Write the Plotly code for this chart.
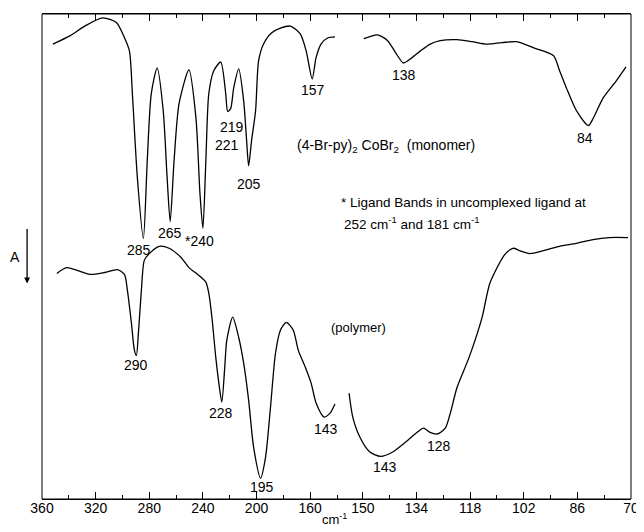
import numpy as np
import plotly.graph_objects as go

# ---------------- data (wavenumber cm^-1, relative absorbance scale 0-100, peaks point down) ----
mono_left_cm = [351.9, 339.3, 328.1, 314.8, 304.4, 298.5, 294.8, 292.6, 288.9, 284.4, 281.5, 278.5,
                274.1, 269.6, 266.7, 264.4, 261.5, 257.8, 250.4, 245.2, 242.2, 240.0, 237.8, 235.6,
                231.9, 226.7, 223.0, 221.5, 219.3, 217.0, 213.3, 209.6, 207.4, 205.9, 203.7, 200.7,
                198.5, 194.8, 188.9, 182.2, 174.8, 167.4, 163.0, 158.5, 155.6, 151.9, 146.7, 141.5]
mono_left_a = [93.8, 95.5, 97.5, 99.2, 98.2, 95.1, 92.4, 83.6, 66.3, 53.7, 69.8, 83.6,
               88.9, 80.1, 66.3, 57.2, 69.8, 81.5, 88.5, 78.6, 63.0, 55.8, 69.8, 83.6,
               88.3, 90.1, 83.6, 79.9, 80.5, 84.8, 88.7, 82.1, 73.9, 68.7, 73.9, 80.1,
               90.3, 93.8, 96.1, 97.1, 97.5, 95.9, 92.4, 86.6, 91.0, 93.8, 95.1, 95.3]

mono_right_cm = [149.7, 145.6, 142.6, 140.2, 137.9, 135.5, 132.8, 129.9, 126.9, 121.9, 117.4, 113.0,
                 108.5, 104.1, 99.0, 93.1, 91.3, 89.3, 86.3, 82.7, 81.2, 78.3, 74.4, 71.5]
mono_right_a = [94.9, 95.7, 94.5, 92.0, 89.9, 90.9, 92.4, 93.8, 94.5, 94.7, 94.3, 93.8,
                94.1, 94.3, 93.0, 91.4, 88.3, 84.8, 80.1, 77.0, 78.6, 82.7, 86.2, 89.1]

poly_left_cm = [348.9, 341.5, 324.4, 313.3, 303.7, 298.5, 296.3, 293.3, 291.1, 289.6, 288.1, 285.9,
                283.7, 280.0, 272.6, 265.2, 256.3, 250.4, 243.0, 237.8, 235.6, 233.3, 230.4, 228.1,
                225.9, 223.7, 222.2, 217.8, 213.3, 209.6, 205.9, 202.2, 197.0, 193.3, 189.6, 185.9,
                182.2, 177.8, 172.6, 168.9, 163.7, 159.3, 155.6, 149.6, 145.2, 141.5]
poly_left_a = [46.5, 47.7, 46.3, 46.7, 47.3, 46.3, 43.0, 36.2, 30.7, 29.6, 34.2, 43.0,
               49.2, 50.6, 52.1, 51.7, 49.8, 47.7, 46.1, 44.7, 42.4, 37.5, 29.2, 23.9,
               20.0, 27.2, 32.7, 37.5, 33.3, 28.0, 20.4, 10.7, 4.3, 8.6, 18.9, 30.0,
               34.8, 36.4, 34.8, 30.7, 27.2, 23.9, 19.8, 16.9, 17.7, 19.6]

poly_right_cm = [154.1, 153.0, 150.9, 147.9, 144.7, 141.1, 137.3, 133.7, 131.9, 130.1, 127.8, 125.4,
                 123.9, 121.9, 118.3, 114.4, 112.1, 107.9, 106.1, 105.0, 103.2, 100.2, 96.1, 91.3,
                 86.3, 81.3, 76.5, 70.9]
poly_right_a = [21.8, 16.9, 12.8, 9.7, 8.8, 9.7, 11.7, 13.8, 14.6, 13.8, 13.4, 14.6,
                17.7, 23.0, 29.2, 37.5, 44.5, 50.2, 51.4, 51.7, 51.2, 50.6, 51.2, 52.1,
                52.7, 53.5, 53.9, 53.9]

# peak labels: (text, series, wavenumber, dx px, dy px)
mono_peaks = [("285", "L", 284.4, -4, -11), ("265", "L", 264.4, 0, -11), ("*240", "L", 240.0, -3, -13),
              ("219", "L", 220.0, 2, -17), ("221", "L", 220.0, -3, -35), ("205", "L", 205.9, 0, -18),
              ("157", "L", 158.5, 1, -11), ("138", "R", 137.9, 1, -12), ("84", "R", 82.7, -3, -12)]
poly_peaks = [("290", "L", 289.6, 0, -10), ("228", "L", 225.9, -1, -11), ("195", "L", 197.0, 1, -9),
              ("143", "L", 149.6, 2, -12), ("143", "R", 144.7, 4, -11), ("128", "R", 127.8, 2, -12)]

left_ticks_major = 40
right_ticks_major = 16

# ---------------- figure ----------------
FONT = "Liberation Sans, Arial, sans-serif"
LINE = dict(color="black", width=1.3, shape="spline", smoothing=0.7)

fig = go.Figure()
fig.add_trace(go.Scatter(x=mono_left_cm, y=mono_left_a, mode="lines", line=LINE, xaxis="x", yaxis="y"))
fig.add_trace(go.Scatter(x=mono_right_cm, y=mono_right_a, mode="lines", line=LINE, xaxis="x2", yaxis="y"))
fig.add_trace(go.Scatter(x=poly_left_cm, y=poly_left_a, mode="lines", line=LINE, xaxis="x", yaxis="y"))
fig.add_trace(go.Scatter(x=poly_right_cm, y=poly_right_a, mode="lines", line=LINE, xaxis="x2", yaxis="y"))

series = {
    ("m", "L"): (mono_left_cm, mono_left_a, "x"),
    ("m", "R"): (mono_right_cm, mono_right_a, "x2"),
    ("p", "L"): (poly_left_cm, poly_left_a, "x"),
    ("p", "R"): (poly_right_cm, poly_right_a, "x2"),
}

TXT = dict(family=FONT, color="black")
annotations = []
for key, peaks in (("m", mono_peaks), ("p", poly_peaks)):
    for text, side, cm, dx, dy in peaks:
        xs, ys, xref = series[(key, side)]
        yv = float(np.interp(cm, xs[::-1], ys[::-1]))
        annotations.append(dict(x=cm, y=yv, xref=xref, yref="y", text=text, showarrow=False,
                                xanchor="center", yanchor="middle",
                                xshift=dx, yshift=dy, font=dict(size=14, **TXT)))

# page offset of 8px (browser body margin) is compensated in figure size / margins
W_PLOT = 593.0
H_PLOT = 486.0
def px(xp):
    return (xp - 42) / W_PLOT
def py(yp):
    return (499 - yp) / H_PLOT

annotations += [
    dict(x=px(297), y=py(145), xref="paper", yref="paper", xanchor="left", yanchor="middle", showarrow=False,
         text="(4-Br-py)<sub>2</sub> CoBr<sub>2</sub>  (monomer)", font=dict(size=14, **TXT)),
    dict(x=px(341), y=py(202), xref="paper", yref="paper", xanchor="left", yanchor="middle", showarrow=False,
         text="* Ligand Bands in uncomplexed ligand at", font=dict(size=13.5, **TXT)),
    dict(x=px(344), y=py(222), xref="paper", yref="paper", xanchor="left", yanchor="middle", showarrow=False,
         text="252 cm<sup>-1</sup> and 181 cm<sup>-1</sup>", font=dict(size=13.5, **TXT)),
    dict(x=px(331), y=py(327), xref="paper", yref="paper", xanchor="left", yanchor="middle", showarrow=False,
         text="(polymer)", font=dict(size=13, **TXT)),
    dict(x=px(336), y=py(519), xref="paper", yref="paper", xanchor="center", yanchor="middle", showarrow=False,
         text="cm<sup>-1</sup>", font=dict(size=13, **TXT)),
    dict(x=px(15), y=py(256), xref="paper", yref="paper", xanchor="center", yanchor="middle", showarrow=False,
         text="A", font=dict(size=14, **TXT)),
    dict(x=px(27), y=py(283), xref="paper", yref="paper", ax=0, ay=-56, text="", showarrow=True,
         arrowhead=2, arrowsize=0.9, arrowwidth=1.3, arrowcolor="black", font=dict(size=12, **TXT)),
]

split = (345 - 42) / W_PLOT
left_end = 360 - (345 - 42) / 1.35
right_start = 150 + (365 - 345) / 3.375

axis_common = dict(showline=True, linecolor="black", linewidth=1, mirror="ticks", ticks="inside",
                   ticklen=7, tickwidth=1, tickcolor="black", showgrid=False, zeroline=False,
                   tickfont=dict(size=14, family=FONT, color="black"), ticklabelstandoff=-4)

fig.update_layout(
    width=636, height=524,
    margin=dict(l=34, r=9, t=5, b=33),
    font=dict(family=FONT, size=13, color="black"),
    paper_bgcolor="white", plot_bgcolor="white",
    showlegend=False,
    xaxis=dict(domain=[0, split], range=[360, left_end], tick0=0, dtick=left_ticks_major,
               minor=dict(dtick=left_ticks_major / 2, tick0=0, ticks="inside", ticklen=4, tickcolor="black"),
               anchor="y", **axis_common),
    xaxis2=dict(domain=[split, 1], range=[right_start, 70], tick0=70, dtick=right_ticks_major,
                minor=dict(dtick=right_ticks_major / 2, tick0=70, ticks="inside", ticklen=4, tickcolor="black"),
                anchor="y", **axis_common),
    yaxis=dict(range=[0, 100], visible=False, domain=[0, 1]),
    shapes=[dict(type="rect", xref="paper", yref="paper", x0=0, x1=1, y0=0, y1=1,
                 line=dict(color="black", width=1))],
    annotations=annotations,
)

fig.write_html("out.html")
